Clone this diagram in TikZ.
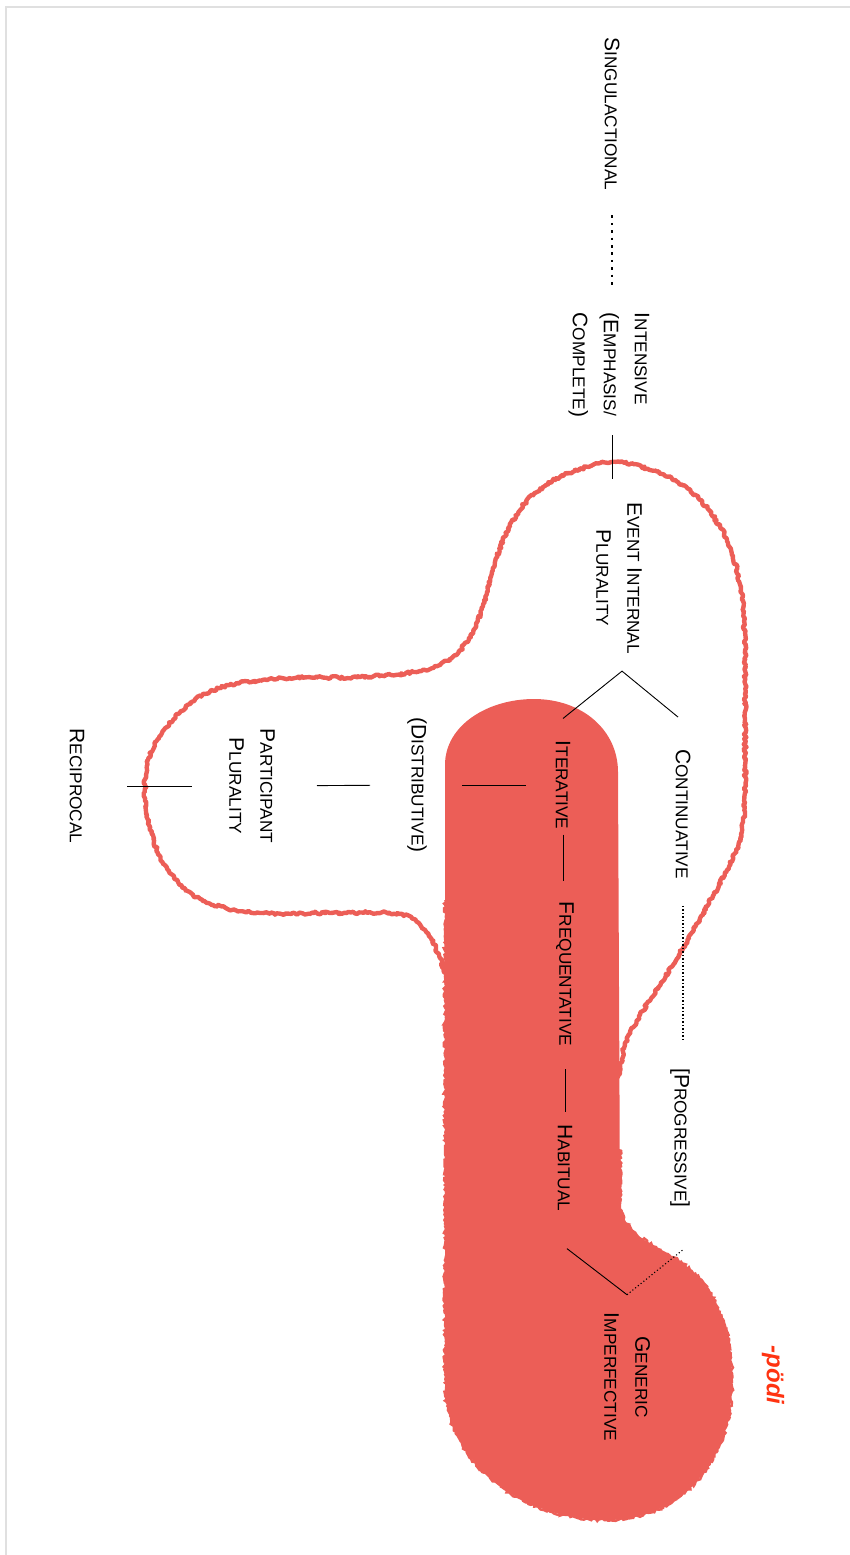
\documentclass[tikz,border=0pt]{standalone}
\usepackage{fontspec}
\setmainfont{Liberation Sans}
\usepackage{tikz}
\usetikzlibrary{calc,decorations.pathmorphing}
\definecolor{blob}{HTML}{EC5E57}
\definecolor{morph}{HTML}{FF3311}
\definecolor{framegray}{HTML}{E0E0E0}
\newcommand{\smc}[2]{#1{\fontsize{17.2}{31}\selectfont #2}}
\tikzset{
  lab/.style={rotate=-90, inner sep=0pt, font=\fontsize{21}{31}\selectfont, align=center},
  solidline/.style={draw=black, line width=0.9pt},
  dottedline/.style={draw=black, line width=1.1pt, dash pattern=on 1.1pt off 2.4pt},
  thickdots/.style={draw=black, line width=2.6pt, dash pattern=on 2.6pt off 4.8pt},
  rough/.style={decorate, decoration={random steps, segment length=2pt, amplitude=1.4pt}},
  regionline/.style={draw=blob, line width=4.4pt, line join=round, rough},
}
\pgfmathsetseed{7}

\begin{document}
\begin{tikzpicture}[x=1pt, y=-1pt]
  \useasboundingbox (0,0) rectangle (850,1555);
  \draw[framegray, line width=1.6pt] (6,1555) -- (6,7) -- (850,7);

  % event-internal plurality region
  \draw[regionline] plot[smooth cycle, tension=0.55] coordinates {
    (612,462) (662,474) (700,500) (727,540) (741,590) (745,650) (745,720)
    (745,790) (741,835) (727,870) (703,913) (683,948) (662,982) (640,1015)
    (625,1045) (618,1075) (600,1110) (540,1130) (475,1080) (452,1000)
    (440,958) (425,930) (400,914) (330,913) (260,913) (208,903) (178,882)
    (158,853) (147,815) (145,786) (148,760) (162,733) (190,703) (230,685)
    (290,678) (360,677) (420,671) (455,655) (476,625) (490,582) (503,540)
    (525,503) (560,477)};

  % -podi region
  \fill[blob] (445,1383) -- (445,765) .. controls (445,725) and (488,699) .. (534,699)
    .. controls (582,699) and (618,730) .. (618,772) -- (620,1205)
    .. controls (622,1228) and (642,1240) .. (668,1254)
    .. controls (708,1276) and (732,1315) .. (732,1382)
    .. controls (732,1462) and (680,1520) .. (607,1520)
    .. controls (520,1520) and (445,1462) .. (445,1383) -- cycle;
  \draw[blob, line width=2.4pt, rough] (620,1150) -- (620,1205)
    .. controls (622,1228) and (642,1240) .. (668,1254)
    .. controls (708,1276) and (732,1315) .. (732,1382)
    .. controls (732,1462) and (680,1520) .. (607,1520)
    .. controls (520,1520) and (445,1462) .. (445,1383) -- (445,900);

  \node[lab] (sing) at (612,114) {\smc{S}{INGULACTIONAL}};
  \node[lab, align=left] (inten) at (609,365) {\smc{I}{NTENSIVE}\\(\smc{E}{MPHASIS/}\\\smc{C}{OMPLETE})};
  \node[lab] (evt) at (619,578) {\smc{E}{VENT} \smc{I}{NTERNAL}\\\smc{P}{LURALITY}};
  \node[lab] (cont) at (683,814) {\smc{C}{ONTINUATIVE}};
  \node[lab] (iter) at (563,785) {\smc{I}{TERATIVE}};
  \node[lab] (dist) at (417,785) {(\smc{D}{ISTRIBUTIVE})};
  \node[lab] (part) at (252,786) {\smc{P}{ARTICIPANT}\\\smc{P}{LURALITY}};
  \node[lab] (recip) at (77,786) {\smc{R}{ECIPROCAL}};
  \node[lab] (freq) at (565,974) {\smc{F}{REQUENTATIVE}};
  \node[lab] (habit) at (565,1168) {\smc{H}{ABITUAL}};
  \node[lab] (prog) at (680,1138) {[\smc{P}{ROGRESSIVE}]};
  \node[lab] (gen) at (627,1377) {\smc{G}{ENERIC}\\\smc{I}{MPERFECTIVE}};
  \node[lab, text=morph, font=\fontsize{24}{28}\selectfont\bfseries\itshape] (podi) at (773,1375) {-pödi};

  \draw[thickdots, shorten <=25pt, shorten >=25pt] (sing.east) -- (sing.east |- inten.west);
  \draw[solidline, shorten <=18pt, shorten >=23pt] (sing.east |- inten.east) -- (sing.east |- evt.west);

  \coordinate (fork) at ([xshift=3pt, yshift=-17pt]evt.east);
  \draw[solidline] ([yshift=22pt]iter.west) -- (fork) -- ([xshift=-5pt, yshift=32pt]cont.west);
  \draw[solidline, shorten <=5pt, shorten >=21pt] (iter.east) -- (iter.east |- freq.west);
  \draw[solidline, shorten <=23pt, shorten >=12pt] (freq.east) -- (freq.east |- habit.west);
  \draw[dottedline, shorten <=27pt, shorten >=27pt] (cont.east) -- (cont.east |- prog.west);

  \coordinate (gfork) at ([yshift=18pt]gen.west);
  \draw[solidline] ([xshift=2pt, yshift=-37pt]habit.east) -- (gfork);
  \draw[dottedline] (gfork) -- ([xshift=4pt, yshift=-41pt]prog.east);

  \draw[solidline, shorten <=45pt, shorten >=37pt] (dist.center) -- (iter.center);
  \draw[solidline, shorten <=65pt, shorten >=47pt] (part.center) -- (dist.center);
  \draw[solidline, shorten <=50pt, shorten >=60pt] (recip.center) -- (part.center);
\end{tikzpicture}
\end{document}
